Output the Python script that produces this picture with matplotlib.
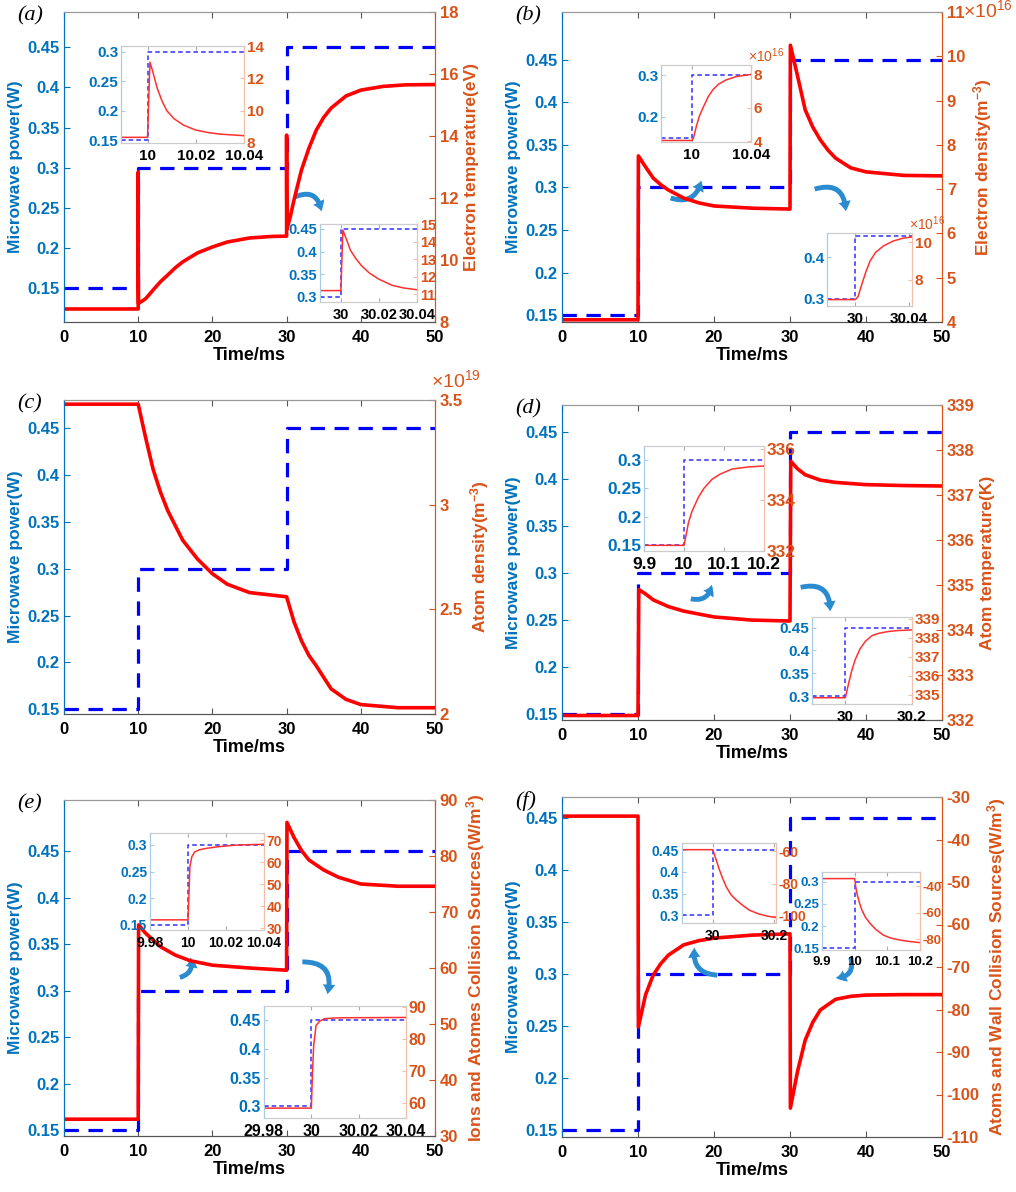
import numpy as np
import matplotlib.pyplot as plt
from matplotlib import font_manager

# pick a sans family that really has a bold face
bold_family = 'DejaVu Sans'
for cand in ['Liberation Sans', 'Roboto', 'Lato', 'Noto Sans', 'Inter']:
    if any(f.name == cand and str(f.weight) in ('bold', '700', '600') for f in font_manager.fontManager.ttflist):
        bold_family = cand
        break

plt.rcParams['font.family'] = [bold_family, 'DejaVu Sans']
plt.rcParams['font.weight'] = 'bold'
plt.rcParams['mathtext.default'] = 'regular'

W, H = 1016, 1192
BLUE_AX = '#0072BD'
ORANGE_AX = '#D95319'
ARROW = '#2a8bd0'

# microwave power steps (W)
power_t = [0, 10, 10, 30, 30, 50]
power_w = [0.15, 0.15, 0.30, 0.30, 0.45, 0.45]
left_ticks = [0.15, 0.2, 0.25, 0.3, 0.35, 0.4, 0.45]

# (a) electron temperature (eV)
te_t = [0, 10, 10.001, 10.01, 10.05, 11, 12, 13, 14, 15, 16, 18, 20, 22, 25, 28, 30,
        30.001, 30.01, 30.05, 30.5, 31, 32, 33, 34, 35, 36, 38, 40, 43, 46, 50]
te_v = [8.42, 8.42, 12.84, 9.7, 8.6, 8.75, 9.03, 9.3, 9.52, 9.75, 9.94, 10.23, 10.42, 10.58, 10.71, 10.76, 10.77,
        14.03, 12.4, 11.0, 11.4, 11.94, 12.9, 13.6, 14.19, 14.6, 14.9, 15.29, 15.48, 15.6, 15.65, 15.66]
# (b) electron density (1e16 m^-3)
ne_t = [0, 10, 10.05, 11, 12, 13, 14, 16, 18, 20, 25, 30,
        30.05, 31, 32, 33, 34, 35, 36, 38, 40, 45, 50]
ne_v = [4.05, 4.05, 7.75, 7.5, 7.25, 7.1, 6.98, 6.8, 6.69, 6.62, 6.57, 6.55,
        10.25, 9.55, 8.79, 8.4, 8.11, 7.88, 7.7, 7.48, 7.39, 7.31, 7.3]
# (c) atom density (1e19 m^-3)
na_t = [0, 10, 10.5, 11, 12, 13, 14, 16, 18, 20, 22, 25, 30,
        30.5, 31, 32, 33, 34, 36, 38, 40, 45, 50]
na_v = [3.48, 3.48, 3.4, 3.32, 3.17, 3.06, 2.97, 2.83, 2.74, 2.67, 2.62, 2.58, 2.56,
        2.5, 2.44, 2.35, 2.28, 2.23, 2.12, 2.07, 2.045, 2.03, 2.03]
# (d) atom temperature (K)
ta_t = [0, 10, 10.1, 11, 12, 14, 16, 20, 25, 30,
        30.1, 31, 32, 34, 36, 40, 45, 50]
ta_v = [332.1, 332.1, 334.9, 334.8, 334.67, 334.52, 334.42, 334.29, 334.22, 334.2,
        337.75, 337.58, 337.45, 337.33, 337.28, 337.23, 337.21, 337.2]
# (e) ions and atoms collision sources (W/m^3)
ec_t = [0, 10, 10.05, 11, 12, 13, 15, 17, 20, 25, 30,
        30.05, 31, 32, 33, 35, 37, 40, 45, 50]
ec_v = [33.0, 33.0, 67.7, 66.2, 65.0, 63.8, 62.3, 61.3, 60.5, 60.0, 59.6,
        86.0, 83.3, 81.0, 79.3, 77.5, 76.2, 75.0, 74.6, 74.6]
# (f) atoms and wall collision sources (W/m^3)
fw_t = [0, 10, 10.05, 11, 12, 13, 14, 16, 18, 20, 25, 30,
        30.05, 31, 32, 33, 34, 36, 38, 40, 45, 50]
fw_v = [-34.5, -34.5, -84.1, -76.5, -71.9, -69.2, -67.2, -64.8, -63.8, -63.2, -62.5, -62.2,
        -103.2, -94.5, -87.2, -83.0, -80.1, -77.6, -76.9, -76.6, -76.5, -76.5]

# inset series
a1_t = [9.989, 10.0, 10.001, 10.002, 10.004, 10.006, 10.008, 10.011, 10.015, 10.02, 10.025, 10.03, 10.04]
a1_v = [8.35, 8.35, 13.0, 12.5, 11.4, 10.6, 10.0, 9.5, 9.1, 8.8, 8.65, 8.55, 8.45]
a2_t = [29.989, 30.0, 30.001, 30.003, 30.005, 30.008, 30.011, 30.015, 30.02, 30.027, 30.033, 30.04]
a2_v = [11.2, 11.2, 14.65, 14.1, 13.5, 13.0, 12.6, 12.2, 11.85, 11.5, 11.35, 11.25]
b1_t = [9.979, 10.0, 10.001, 10.003, 10.005, 10.008, 10.011, 10.014, 10.018, 10.023, 10.03, 10.04]
b1_v = [4.05, 4.05, 4.2, 4.9, 5.5, 6.1, 6.65, 7.05, 7.4, 7.65, 7.85, 7.98]
b2_t = [29.979, 30.0, 30.002, 30.005, 30.008, 30.011, 30.015, 30.021, 30.028, 30.035, 30.042]
b2_v = [6.94, 6.94, 7.1, 7.8, 8.45, 9.0, 9.45, 9.8, 10.05, 10.2, 10.27]
d1_t = [9.9, 10.0, 10.005, 10.011, 10.02, 10.036, 10.05, 10.07, 10.09, 10.12, 10.16, 10.2]
d1_v = [332.22, 332.22, 332.6, 333.1, 333.55, 334.1, 334.45, 334.8, 335.0, 335.2, 335.28, 335.32]
d2_t = [29.9, 30.0, 30.005, 30.01, 30.02, 30.03, 30.044, 30.06, 30.08, 30.1, 30.13, 30.16, 30.2]
d2_v = [334.83, 334.83, 335.2, 335.6, 336.3, 336.85, 337.4, 337.8, 338.1, 338.22, 338.32, 338.37, 338.4]
e1_t = [9.98, 10.0, 10.0005, 10.001, 10.002, 10.0035, 10.006, 10.0095, 10.015, 10.025, 10.04]
e1_v = [33.8, 33.8, 45.0, 58.0, 62.4, 64.6, 65.6, 66.2, 66.9, 67.7, 68.1]
e2_t = [29.98, 30.0, 30.0005, 30.001, 30.002, 30.0035, 30.0055, 30.009, 30.013, 30.04]
e2_v = [58.3, 58.3, 70.0, 78.0, 84.3, 85.6, 86.4, 86.6, 86.7, 86.8]
f1_t = [29.9, 30.0, 30.005, 30.01, 30.022, 30.033, 30.044, 30.06, 30.077, 30.1, 30.12, 30.15, 30.18, 30.206]
f1_v = [-58.9, -58.9, -61.5, -64.5, -71.5, -77.0, -81.9, -87.0, -90.2, -93.8, -96.5, -98.8, -100.2, -101.0]
f2_t = [9.9, 10.0, 10.003, 10.007, 10.014, 10.022, 10.033, 10.047, 10.065, 10.087, 10.11, 10.137, 10.17, 10.2]
f2_v = [-34.2, -34.2, -40.0, -45.5, -52.0, -58.0, -63.5, -68.1, -72.8, -76.9, -79.2, -80.7, -81.9, -82.7]


def rect(x0, x1, y0, y1):
    return [x0 / W, 1 - y1 / H, (x1 - x0) / W, (y1 - y0) / H]


def fmt(v):
    return '%g' % v


def bold_ticks(ax):
    for lbl in ax.get_xticklabels() + ax.get_yticklabels():
        lbl.set_fontweight('bold')


fig = plt.figure(figsize=(W / 100, H / 100), dpi=100)


def main_panel(box, letter, red_t, red_v, left_lim, right_lim, right_ticks, right_label,
               mult=None, mult_pos=(0.99, 1.0), mult_va='bottom'):
    ax = fig.add_axes(rect(*box))
    ax.plot(power_t, power_w, color='#0000ff', lw=2.3, dashes=(4.5, 3))
    ax.set_xlim(0, 50)
    ax.set_xticks(range(0, 51, 10))
    ax.set_xticklabels([str(v) for v in range(0, 51, 10)])
    ax.set_ylim(left_lim)
    ax.set_yticks(left_ticks)
    ax.set_yticklabels([fmt(v) for v in left_ticks])
    ax.set_xlabel('Time/ms', fontsize=13, fontweight='bold', labelpad=1)
    ax.set_ylabel('Microwave power(W)', fontsize=12.5, fontweight='bold', color=BLUE_AX, labelpad=3)
    ax.tick_params(axis='x', direction='in', top=True, length=4, labelsize=12, color='#555555', pad=6)
    ax.tick_params(axis='y', direction='in', length=4, labelsize=12, colors=BLUE_AX)
    ax2 = ax.twinx()
    ax2.plot(red_t, red_v, color='#ff0000', lw=2.6)
    ax2.set_ylim(right_lim)
    ax2.set_yticks(right_ticks)
    ax2.set_yticklabels([fmt(v) for v in right_ticks])
    ax2.set_ylabel(right_label, fontsize=12.5, fontweight='bold', color=ORANGE_AX, labelpad=4)
    ax2.tick_params(axis='y', direction='in', length=4, labelsize=12, colors=ORANGE_AX)
    bold_ticks(ax)
    bold_ticks(ax2)
    for a in (ax, ax2):
        a.spines['left'].set_color(BLUE_AX)
        a.spines['right'].set_color(ORANGE_AX)
        a.spines['top'].set_color('#999999')
        a.spines['bottom'].set_color('#555555')
    if mult:
        ax2.text(mult_pos[0], mult_pos[1], r'$\times10^{%d}$' % mult, transform=ax2.transAxes,
                 color=ORANGE_AX, fontsize=14, fontweight='normal', ha='left', va=mult_va)
    x0, y0 = box[0], box[2]
    fig.text((x0 - 47) / W, 1 - (y0 + 4) / H, letter, family=['Liberation Serif', 'DejaVu Serif'],
             style='italic', fontweight='normal', fontsize=16, va='center')
    return ax


def inset(box, xlim, xticks, left_lim, lticks, right_lim, rticks, p_t, p_w, red_t, red_v,
          size=11, mult=None):
    ax = fig.add_axes(rect(*box))
    ax.plot(p_t, p_w, color='#3030ff', lw=1.1, dashes=(3, 2))
    ax.set_xlim(xlim)
    ax.set_xticks(xticks)
    ax.set_xticklabels([fmt(v) for v in xticks])
    ax.set_ylim(left_lim)
    ax.set_yticks(lticks)
    ax.set_yticklabels([fmt(v) for v in lticks])
    ax.tick_params(axis='x', direction='in', top=True, length=3, labelsize=size, color='#aaaaaa', pad=4)
    ax.tick_params(axis='y', direction='in', length=3, labelsize=size, colors=BLUE_AX, pad=2)
    ax.tick_params(axis='y', color='#a8cbe8')
    ax2 = ax.twinx()
    ax2.plot(red_t, red_v, color='#ff3030', lw=1.1)
    ax2.set_ylim(right_lim)
    ax2.set_yticks(rticks)
    ax2.set_yticklabels([fmt(v) for v in rticks])
    ax2.tick_params(axis='y', direction='in', length=3, labelsize=size, colors=ORANGE_AX, pad=2)
    ax2.tick_params(axis='y', color='#f3bfa8')
    bold_ticks(ax)
    bold_ticks(ax2)
    for a in (ax, ax2):
        a.spines['left'].set_color('#a8cbe8')
        a.spines['right'].set_color('#f3bfa8')
        a.spines['top'].set_color('#cccccc')
        a.spines['bottom'].set_color('#cccccc')
    if mult:
        ax2.text(0.97, 1.0, r'$\times10^{%d}$' % mult, transform=ax2.transAxes,
                 color=ORANGE_AX, fontsize=size - 1, fontweight='normal', ha='left', va='bottom')


def arrow(ax, start, end, rad):
    ax.annotate('', xy=end, xytext=start, xycoords='axes fraction', textcoords='axes fraction',
                arrowprops=dict(arrowstyle='simple,head_width=0.9,head_length=0.7,tail_width=0.35',
                                connectionstyle='arc3,rad=%s' % rad, color=ARROW, lw=0),
                zorder=10)


# main panels
ax_a = main_panel((64, 435, 12, 322), '(a)', te_t, te_v, (0.108, 0.494), (8, 18),
                  [8, 10, 12, 14, 16, 18], 'Electron temperature(eV)')
ax_b = main_panel((562, 942, 12, 322), '(b)', ne_t, ne_v, (0.142, 0.506), (4, 11),
                  [4, 5, 6, 7, 8, 9, 10, 11], 'Electron density(m$^{-3}$)', mult=16,
                  mult_pos=(1.055, 1.005), mult_va='center')
ax_c = main_panel((64, 435, 400, 714), '(c)', na_t, na_v, (0.145, 0.48), (2, 3.5),
                  [2, 2.5, 3, 3.5], 'Atom density(m$^{-3}$)', mult=19, mult_pos=(0.99, 1.028))
ax_d = main_panel((562, 942, 405, 720), '(d)', ta_t, ta_v, (0.1436, 0.479), (332, 339),
                  list(range(332, 340)), 'Atom temperature(K)')
ax_e = main_panel((64, 435, 800, 1136), '(e)', ec_t, ec_v, (0.1436, 0.505), (30, 90),
                  list(range(30, 91, 10)), 'Ions and Atomes Collision Sources(W/m$^{3}$)')
ax_f = main_panel((562, 942, 797, 1137), '(f)', fw_t, fw_v, (0.143, 0.47), (-110, -30),
                  list(range(-110, -29, 10)), 'Atoms and Wall Collision Sources(W/m$^{3}$)')

# curved arrows pointing to the insets
arrow(ax_a, (0.616, 0.40), (0.695, 0.348), -0.7)
arrow(ax_b, (0.279, 0.403), (0.368, 0.465), 0.6)
arrow(ax_b, (0.658, 0.426), (0.747, 0.348), -0.7)
arrow(ax_d, (0.332, 0.387), (0.395, 0.438), 0.6)
arrow(ax_d, (0.621, 0.419), (0.705, 0.336), -0.7)
arrow(ax_e, (0.305, 0.47), (0.338, 0.539), 0.6)
arrow(ax_e, (0.635, 0.518), (0.708, 0.414), -0.7)
arrow(ax_f, (0.416, 0.476), (0.35, 0.565), -0.6)
arrow(ax_f, (0.758, 0.535), (0.713, 0.468), -0.7)

# insets
inset((121, 244, 46, 143), (9.989, 10.04), [10, 10.02, 10.04], (0.145, 0.31), [0.15, 0.2, 0.25, 0.3],
      (8, 14), [8, 10, 12, 14], [9.989, 10, 10, 10.04], [0.15, 0.15, 0.3, 0.3], a1_t, a1_v)
inset((320, 417, 224, 302), (29.989, 30.04), [30, 30.02, 30.04], (0.288, 0.461), [0.3, 0.35, 0.4, 0.45],
      (10.55, 15), [11, 12, 13, 14, 15], [29.989, 30, 30, 30.04], [0.3, 0.3, 0.45, 0.45], a2_t, a2_v,
      size=10.5)
inset((661, 751, 65, 142), (9.979, 10.04), [10, 10.04], (0.14, 0.324), [0.2, 0.3],
      (3.96, 8.54), [4, 6, 8], [9.979, 10, 10, 10.04], [0.15, 0.15, 0.3, 0.3], b1_t, b1_v, mult=16)
inset((827, 912, 233, 306), (29.979, 30.042), [30, 30.04], (0.282, 0.458), [0.3, 0.4],
      (6.6, 10.48), [8, 10], [29.979, 30, 30, 30.042], [0.3, 0.3, 0.45, 0.45], b2_t, b2_v, mult=16)
inset((644, 764, 446, 551), (9.9, 10.2), [9.9, 10, 10.1, 10.2], (0.139, 0.325), [0.15, 0.2, 0.25, 0.3],
      (332, 336.1), [332, 334, 336], [9.9, 10, 10, 10.2], [0.15, 0.15, 0.3, 0.3], d1_t, d1_v, size=12.5)
inset((812, 912, 617, 704), (29.9, 30.2), [30, 30.2], (0.283, 0.473), [0.3, 0.35, 0.4, 0.45],
      (334.5, 339.08), [335, 336, 337, 338, 339], [29.9, 30, 30, 30.2], [0.3, 0.3, 0.45, 0.45], d2_t, d2_v)
inset((150, 264, 833, 930), (9.98, 10.04), [9.98, 10, 10.02, 10.04], (0.14, 0.3225), [0.15, 0.2, 0.25, 0.3],
      (29.2, 73.2), [30, 40, 50, 60, 70], [9.98, 10, 10, 10.04], [0.15, 0.15, 0.3, 0.3], e1_t, e1_v, size=10)
inset((264, 406, 1006, 1118), (29.98, 30.04), [29.98, 30, 30.02, 30.04], (0.28, 0.474), [0.3, 0.35, 0.4, 0.45],
      (55.2, 90.4), [60, 70, 80, 90], [29.98, 30, 30, 30.04], [0.3, 0.3, 0.45, 0.45], e2_t, e2_v, size=11.5)
inset((682, 776, 843, 923), (29.9, 30.206), [30, 30.2], (0.282, 0.467), [0.3, 0.35, 0.4, 0.45],
      (-104.4, -54.75), [-100, -80, -60], [29.9, 30, 30, 30.206], [0.3, 0.3, 0.45, 0.45], f1_t, f1_v, size=10)
inset((822, 920, 872, 950), (9.9, 10.2), [9.9, 10, 10.1, 10.2], (0.146, 0.322), [0.15, 0.2, 0.25, 0.3],
      (-88.3, -29.2), [-80, -60, -40], [9.9, 10, 10, 10.2], [0.15, 0.15, 0.3, 0.3], f2_t, f2_v, size=9.5)

fig.savefig('out.png', dpi=100, facecolor='white')
